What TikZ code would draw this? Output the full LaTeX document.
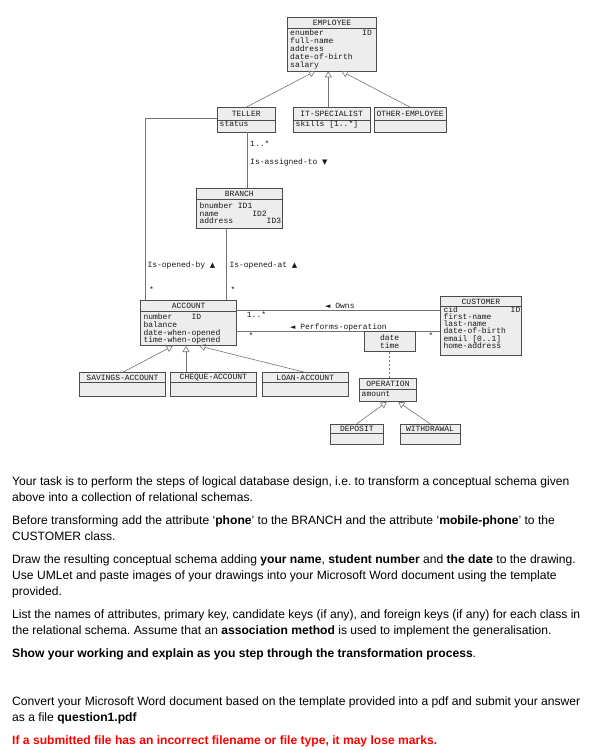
\documentclass[tikz,border=0pt]{standalone}
\usepackage{fontspec}
\setmainfont{Liberation Sans}
\setmonofont{Liberation Mono}
\newfontfamily\symfont{DejaVu Sans}
\usetikzlibrary{arrows.meta,fit}
\frenchspacing
\newcommand\umlbox[7]{%
  \node[cls, fit={(#2,#3)(#4,#5)}] (#1) {};
  \draw[sep] (#2,#6) -- (#4,#6);
  \node[ttl] (#1-t) at ({(#2+#4)/2},{(#3+#6)/2+0.3}) {#7};
}
\newcommand\umlattrs[5]{%
  \foreach \t [count=\i] in {#5} \node[attr] (#1-a\i) at (#2,{#3+(\i-1)*#4}) {\t};
}
\newcommand\tri[1]{{\symfont\fontsize{7}{7}\selectfont #1}}
\begin{document}
\begin{tikzpicture}[x=1pt,y=-1pt,
 cls/.style={draw=black!70, fill=black!7, line width=0.6pt, inner sep=0pt},
 sep/.style={draw=black!70, line width=0.6pt},
 conn/.style={draw=black!55, line width=0.6pt},
 gen/.style={conn, -{Triangle[open, length=6pt, width=7pt]}},
 mono/.style={font=\fontsize{8}{8}\selectfont\ttfamily, text=black!90, inner sep=0pt},
 ttl/.style={mono, anchor=center},
 attr/.style={mono, anchor=base west},
 lbl/.style={mono, anchor=base west},
 para/.style={font=\fontsize{12.1}{14}\selectfont, anchor=base west, inner sep=0pt},
]
\useasboundingbox (0,0) rectangle (595,750);

% classes
\umlbox{emp}{287.5}{17}{376.5}{71}{28}{EMPLOYEE}
\umlattrs{emp}{290}{35.8}{7.9}{enumber~~~~~~~~ID, full-name, address, date-of-birth, salary}
\umlbox{tel}{217}{107.5}{275.5}{132}{120}{TELLER}
\umlattrs{tel}{219.5}{126.8}{8}{status}
\umlbox{its}{293.3}{107.5}{370}{132}{120}{IT-SPECIALIST}
\umlattrs{its}{295.5}{126.8}{8}{{skills [1..*]}}
\umlbox{oth}{374.3}{107.5}{446}{132}{120}{OTHER-EMPLOYEE}
\umlbox{br}{196}{188.3}{282.7}{228.3}{199.3}{BRANCH}
\umlattrs{br}{199.3}{208.5}{7.5}{bnumber ID1, name~~~~~~~ID2, address~~~~~~~ID3}
\umlbox{acc}{140.7}{300}{236.7}{345.7}{311.7}{ACCOUNT}
\umlattrs{acc}{143.3}{319.8}{7.6}{number~~~~ID, balance, date-when-opened, time-when-opened}
\umlbox{cus}{440.7}{296.7}{521}{355.7}{306}{CUSTOMER}
\umlattrs{cus}{443.3}{312.5}{7.15}{cid~~~~~~~~~~~ID, first-name, last-name, date-of-birth, {email [0..1]}, home-address}
\umlbox{sav}{79.3}{372.7}{165.7}{396}{382.7}{SAVINGS-ACCOUNT}
\umlbox{chq}{170}{372.7}{256.7}{396}{382.7}{CHEQUE-ACCOUNT}
\umlbox{loan}{262.3}{372.7}{348.3}{396}{382.7}{LOAN-ACCOUNT}
\umlbox{op}{359.3}{378.3}{416.7}{401.7}{389.3}{OPERATION}
\umlattrs{op}{361.5}{396}{8}{amount}
\umlbox{dep}{330.3}{424}{383.3}{444.3}{433.3}{DEPOSIT}
\umlbox{wd}{400}{424}{460}{444.3}{433.3}{WITHDRAWAL}

% connectors
\draw[gen] (tel.north) -- (emp.south -| 315,0);
\draw[gen] (its.north -| 328.3,0) -- (emp.south -| 328.3,0);
\draw[gen] (oth.north -| 410,0) -- (emp.south -| 341.7,0);
\draw[conn] (tel.south -| 247.3,0) -- (br.north -| 247.3,0);
\draw[conn] (tel.west |- 0,118.3) -| (acc.north -| 145,0);
\draw[conn] (br.south -| 226.7,0) -- (acc.north -| 226.7,0);
\draw[conn] (acc.east |- 0,310.7) -- (cus.west |- 0,310.7);
\draw[conn] (acc.east |- 0,331.7) -- (cus.west |- 0,331.7);
\node[cls, fit={(364.3,331.7)(415,351.7)}] (dt) {};
\node[ttl] (dt-1) at (389.6,337.3) {date};
\node[ttl] (dt-2) at (389.6,345.2) {time};
\draw[conn, dash pattern=on 2pt off 2pt] (dt.south) -- (dt.south |- op.north);
\draw[gen] (sav.north) -- (acc.south -| 172.7,0);
\draw[gen] (chq.north -| 186,0) -- (acc.south -| 186,0);
\draw[gen] (loan.north) -- (acc.south -| 199.3,0);
\draw[gen] (dep.north) -- (op.south -| 386.7,0);
\draw[gen] (wd.north) -- (op.south -| 398.3,0);

% labels
\node[lbl] (l1) at (250,146) {1..*};
\node[lbl] (l2) at (250,164.2) {Is-assigned-to \tri{▼}};
\node[lbl] (l3) at (147.3,267.5) {Is-opened-by \tri{▲}};
\node[lbl] (l4) at (229.3,267.5) {Is-opened-at \tri{▲}};
\node[lbl] (l5) at (149,292) {*};
\node[lbl] (l6) at (230.5,292) {*};
\node[lbl] (l7) at (325,308) {\tri{◄} Owns};
\node[lbl] (l8) at (246.7,317) {1..*};
\node[lbl] (l9) at (290,329) {\tri{◄} Performs-operation};
\node[lbl] (l10) at (248.3,338) {*};
\node[lbl] (l11) at (428.3,338) {*};

% text
\node[para] (p1) at (12,485) {Your task is to perform the steps of logical database design, i.e. to transform a conceptual schema given};
\node[para] (p2) at (12,501) {above into a collection of relational schemas.};
\node[para] (p3) at (12,524) {Before transforming add the attribute ‘\textbf{phone}’ to the BRANCH and the attribute ‘\textbf{mobile-phone}’ to the};
\node[para] (p4) at (12,540) {CUSTOMER class.};
\node[para] (p5) at (12,563) {Draw the resulting conceptual schema adding \textbf{your name}, \textbf{student number} and \textbf{the date} to the drawing.};
\node[para] (p6) at (12,579) {Use UMLet and paste images of your drawings into your Microsoft Word document using the template};
\node[para] (p7) at (12,595) {provided.};
\node[para] (p8) at (12,618) {List the names of attributes, primary key, candidate keys (if any), and foreign keys (if any) for each class in};
\node[para] (p9) at (12,634) {the relational schema. Assume that an \textbf{association method} is used to implement the generalisation.};
\node[para] (p10) at (12,657) {\textbf{Show your working and explain as you step through the transformation process}.};
\node[para] (p11) at (12,705) {Convert your Microsoft Word document based on the template provided into a pdf and submit your answer};
\node[para] (p12) at (12,721) {as a file \textbf{question1.pdf}};
\node[para, text=red] (p13) at (12,744) {\textbf{If a submitted file has an incorrect filename or file type, it may lose marks.}};
\end{tikzpicture}
\end{document}
